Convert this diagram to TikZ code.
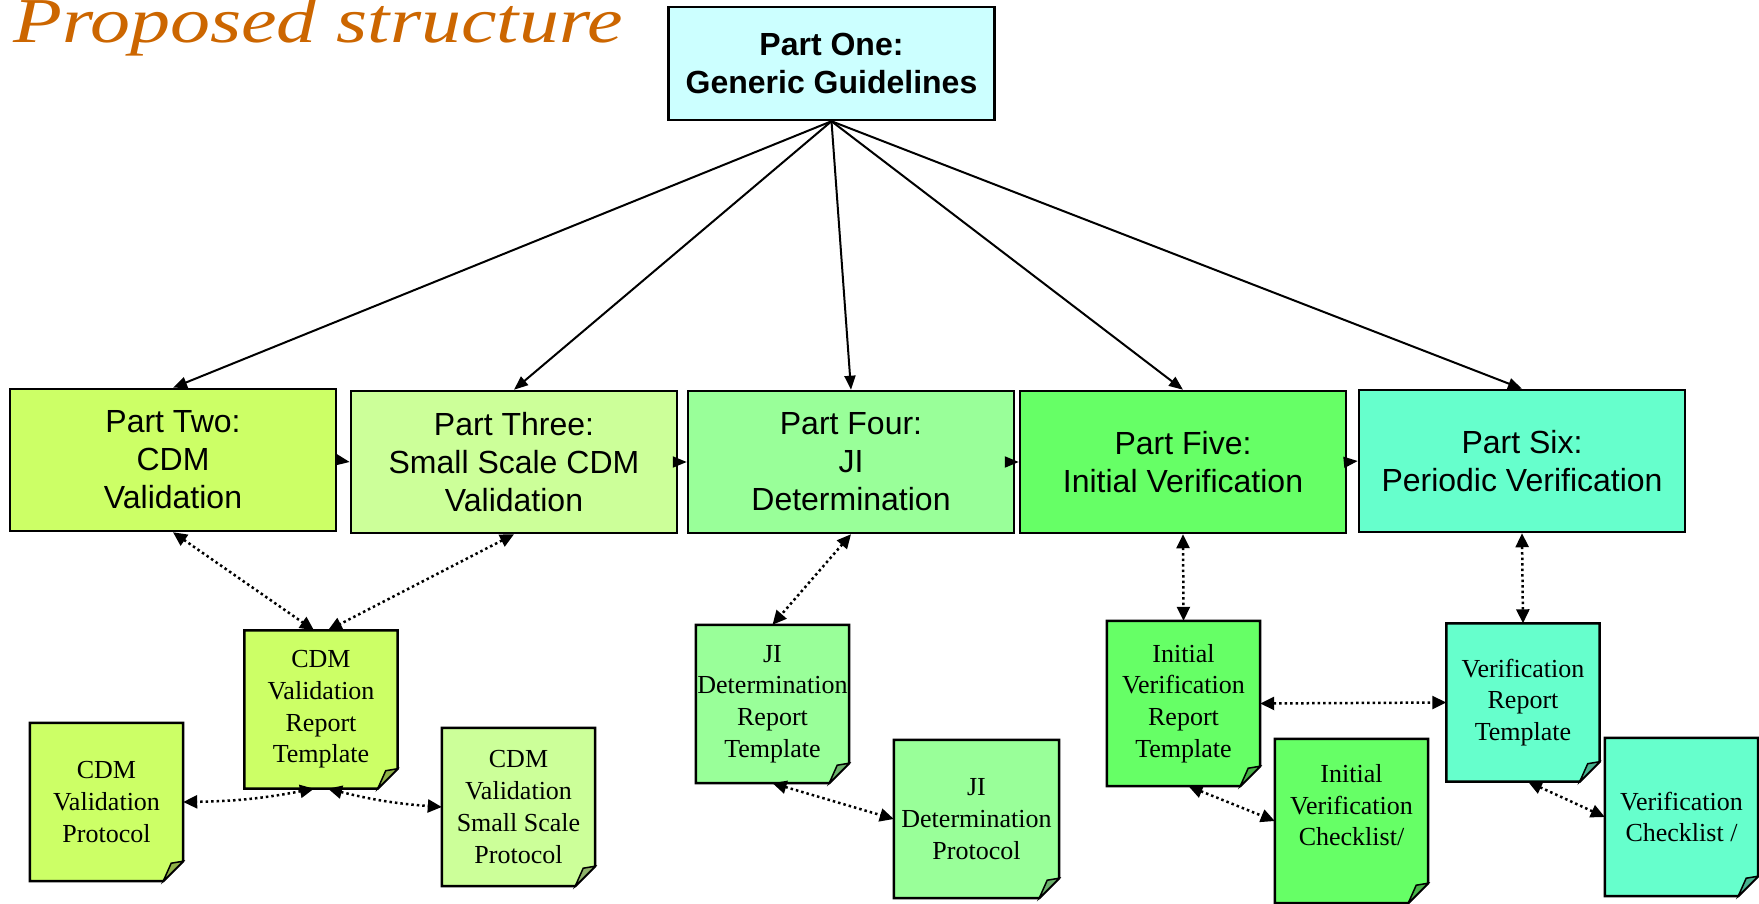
\documentclass[tikz,border=0pt]{standalone}
\usepackage{fontspec}
\setmainfont{Liberation Serif}
\newfontfamily\arialfont{Liberation Sans}
\usetikzlibrary{arrows.meta,backgrounds}

\definecolor{cone}{HTML}{CCFFFF}
\definecolor{ctwo}{HTML}{CCFF66}
\definecolor{cthree}{HTML}{CCFF99}
\definecolor{cfour}{HTML}{99FF99}
\definecolor{cfive}{HTML}{66FF66}
\definecolor{csix}{HTML}{66FFCC}
\definecolor{titleorange}{HTML}{CC6600}

\tikzset{
  partbox/.style={draw, line width=2.5pt, fill=#1, minimum width=326pt, minimum height=142pt,
    inner sep=0pt, align=center, font=\arialfont\fontsize{32}{38}\selectfont},
  docbox/.style={inner sep=0pt, minimum width=153pt, minimum height=158pt, align=center,
    font=\fontsize{26}{31.7}\selectfont},
  link/.style={line width=2pt, -{Triangle[length=14pt,width=11pt]}},
  dotlink/.style={line width=2.5pt, dash pattern=on 2.5pt off 3pt,
    {Triangle[length=14pt,width=13pt]}-{Triangle[length=14pt,width=13pt]}},
}

\begin{document}
\begin{tikzpicture}[x=1pt, y=-1pt]
        \useasboundingbox (0,0) rectangle (1759,904);
        \node[anchor=base west, inner sep=0pt, text=titleorange, font=\itshape\fontsize{64}{70}\selectfont] (title) at (13,43) {\scalebox{1.25}[1]{Proposed structure}};
        % parts
        \node[partbox=cone, minimum height=113pt, font=\arialfont\bfseries\fontsize{32}{38}\selectfont] (p1) at (831.5,63.5) {Part One:\\Generic Guidelines};
        \node[partbox=ctwo] (p2) at (173,460) {Part Two:\\CDM\\Validation};
        \node[partbox=cthree] (p3) at (514,462) {Part Three:\\Small Scale CDM\\Validation};
        \node[partbox=cfour] (p4) at (851,462) {Part Four:\\JI\\Determination};
        \node[partbox=cfive] (p5) at (1183,462) {Part Five:\\Initial Verification};
        \node[partbox=csix] (p6) at (1522,461) {Part Six:\\Periodic Verification};
        % documents
        \node[docbox] (cdmrep) at (321,709.5) {CDM\\Validation\\Report\\Template};
        \node[docbox] (cdmprot) at (106.5,802) {CDM\\Validation\\Protocol};
        \node[docbox] (cdmss) at (518.5,807) {CDM\\Validation\\Small Scale\\Protocol};
        \node[docbox] (jirep) at (772.5,704) {JI\\Determination\\Report\\Template};
        \node[docbox, minimum width=165pt] (jiprot) at (976.5,819) {JI\\Determination\\Protocol};
        \node[docbox, minimum height=165pt] (ivrep) at (1183.5,703.5) {Initial\\Verification\\Report\\Template};
        \node[docbox, minimum height=164pt] (ivcheck) at (1351.5,821) {Initial\\Verification\\Checklist/\\\mbox{}};
        \node[docbox] (vrep) at (1523,702.5) {Verification\\Report\\Template};
        \node[docbox] (vcheck) at (1681.5,817) {Verification\\Checklist /};
        \begin{pgfonlayer}{background}
        \foreach \n/\c in {cdmrep/ctwo, cdmprot/ctwo, cdmss/cthree, jirep/cfour, jiprot/cfour, ivrep/cfive, ivcheck/cfive, vrep/csix, vcheck/csix}{
            \draw[line width=2.5pt, fill=\c] (\n.north west) -- (\n.north east) -- ([yshift=20pt]\n.south east) -- ([xshift=-20pt]\n.south east) -- (\n.south west) -- cycle;
            \draw[line width=1.5pt, fill=\c!70!black] ([xshift=-20pt]\n.south east) -- ([xshift=-12pt,yshift=18pt]\n.south east) -- ([yshift=20pt]\n.south east) -- cycle;
        }
        \end{pgfonlayer}
        % links
        \foreach \p in {p2,p3,p4,p5,p6}{
            \draw[link] (p1.south) -- (\p.north);
        }
        \foreach \a/\b in {p2/p3, p3/p4, p4/p5, p5/p6}{
            \draw[link] (\a.east) -- (\b.west);
        }
        \draw[dotlink] (p2.south) -- ([xshift=-7pt]cdmrep.north);
        \draw[dotlink] (p3.south) -- ([xshift=7pt]cdmrep.north);
        \draw[dotlink] ([xshift=-7pt]cdmrep.south) to[bend left=5] (cdmprot.east);
        \draw[dotlink] ([xshift=7pt]cdmrep.south) to[bend right=5] (cdmss.west);
        \draw[dotlink] (p4.south) -- (jirep.north);
        \draw[dotlink] (jirep.south) -- (jiprot.west);
        \draw[dotlink] (p5.south) -- (ivrep.north);
        \draw[dotlink] (ivrep.east) -- (vrep.west);
        \draw[dotlink] ([xshift=5pt]ivrep.south) -- (ivcheck.west);
        \draw[dotlink] (p6.south) -- (vrep.north);
        \draw[dotlink] ([xshift=5pt]vrep.south) -- (vcheck.west);
\end{tikzpicture}
\end{document}
